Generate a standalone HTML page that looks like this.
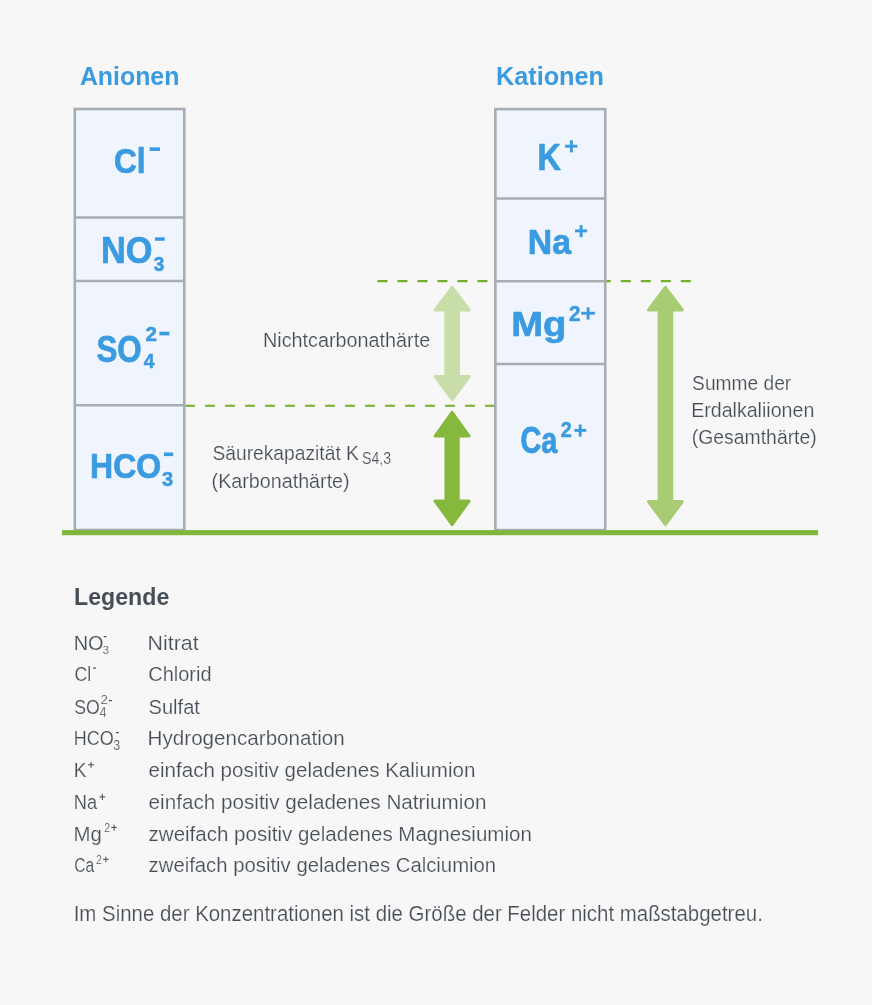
<!DOCTYPE html>
<html><head><meta charset="utf-8"><style>
html,body{margin:0;padding:0;background:#f7f7f7;}
svg{display:block;will-change:transform;font-family:"Liberation Sans",sans-serif;}
</style></head><body>
<svg width="872" height="1005" viewBox="0 0 872 1005">
<rect width="872" height="1005" fill="#f7f7f7"/>
<line x1="185.1" y1="405.8" x2="495" y2="405.8" stroke="#74b02a" stroke-width="2.1" stroke-dasharray="9.8 10.2"/>
<line x1="377.5" y1="281.2" x2="495" y2="281.2" stroke="#74b02a" stroke-width="2.2" stroke-dasharray="10 10"/>
<line x1="600.8" y1="281.2" x2="691.5" y2="281.2" stroke="#74b02a" stroke-width="2.2" stroke-dasharray="10 10"/>
<rect x="74.8" y="109" width="109.5" height="421" fill="#f0f4fc" stroke="#a7adb3" stroke-width="2.6"/>
<line x1="74.8" y1="217.5" x2="184.3" y2="217.5" stroke="#a7adb3" stroke-width="2.5"/>
<line x1="74.8" y1="281" x2="184.3" y2="281" stroke="#a7adb3" stroke-width="2.5"/>
<line x1="74.8" y1="405.3" x2="184.3" y2="405.3" stroke="#a7adb3" stroke-width="2.5"/>
<rect x="495.35" y="109.1" width="109.9" height="421" fill="#f0f4fc" stroke="#a7adb3" stroke-width="2.6"/>
<line x1="495.35" y1="198.6" x2="605.25" y2="198.6" stroke="#a7adb3" stroke-width="2.5"/>
<line x1="495.35" y1="281.3" x2="605.25" y2="281.3" stroke="#a7adb3" stroke-width="2.5"/>
<line x1="495.35" y1="364.05" x2="605.25" y2="364.05" stroke="#a7adb3" stroke-width="2.5"/>
<rect x="62" y="530.1" width="756.1" height="5.1" fill="#80b63b"/>
<polygon points="452.20,287.30 469.20,310.00 458.60,310.00 458.60,376.50 469.20,376.50 452.20,399.50 435.20,376.50 445.80,376.50 445.80,310.00 435.20,310.00" fill="#c9dda9" stroke="#c9dda9" stroke-width="3" stroke-linejoin="round"/>
<polygon points="452.10,412.30 469.10,436.00 458.20,436.00 458.20,501.00 469.10,501.00 452.10,524.60 435.10,501.00 446.00,501.00 446.00,436.00 435.10,436.00" fill="#86b83d" stroke="#86b83d" stroke-width="3" stroke-linejoin="round"/>
<polygon points="665.40,287.30 682.40,310.00 671.70,310.00 671.70,501.50 682.40,501.50 665.40,524.60 648.40,501.50 659.10,501.50 659.10,310.00 648.40,310.00" fill="#a8cc74" stroke="#a8cc74" stroke-width="3" stroke-linejoin="round"/>
<rect x="149.7" y="147.3" width="10.30" height="3.70" fill="#3b9be0"/>
<rect x="155" y="237.3" width="9.70" height="3.45" fill="#3b9be0"/>
<rect x="159.4" y="331.7" width="10.00" height="3.70" fill="#3b9be0"/>
<rect x="164" y="452.5" width="9.20" height="3.60" fill="#3b9be0"/>
<rect x="565.1" y="144.75" width="12.25" height="2.90" fill="#3b9be0"/>
<rect x="569.9499999999999" y="140.3" width="2.90" height="12.10" fill="#3b9be0"/>
<rect x="575" y="229.45000000000002" width="12.10" height="2.90" fill="#3b9be0"/>
<rect x="579.65" y="225.1" width="2.90" height="12.10" fill="#3b9be0"/>
<rect x="581.25" y="311.8" width="13.65" height="2.90" fill="#3b9be0"/>
<rect x="586.65" y="307.3" width="2.90" height="12.30" fill="#3b9be0"/>
<rect x="574.4" y="428.95" width="11.90" height="2.90" fill="#3b9be0"/>
<rect x="578.75" y="424.55" width="2.90" height="12.05" fill="#3b9be0"/>
<rect x="103.75" y="636" width="2.75" height="1.20" fill="#474e57"/>
<rect x="93.1" y="667.5" width="2.90" height="1.20" fill="#474e57"/>
<rect x="108.75" y="700" width="3.15" height="1.20" fill="#474e57"/>
<rect x="116" y="732" width="2.75" height="1.20" fill="#474e57"/>
<rect x="88.1" y="764.275" width="5.90" height="1.05" fill="#474e57"/>
<rect x="90.52499999999999" y="761.9" width="1.05" height="5.85" fill="#474e57"/>
<rect x="99.4" y="796.375" width="5.85" height="1.05" fill="#474e57"/>
<rect x="101.77499999999999" y="793.75" width="1.05" height="6.25" fill="#474e57"/>
<rect x="111.3" y="826.9250000000001" width="5.50" height="1.05" fill="#474e57"/>
<rect x="113.57499999999999" y="824.7" width="1.05" height="6.00" fill="#474e57"/>
<rect x="103" y="858.775" width="5.80" height="1.05" fill="#474e57"/>
<rect x="105.375" y="856.6" width="1.05" height="5.70" fill="#474e57"/>
<text transform="translate(79.91 84.50) scale(0.9717 1)" font-size="25.60" font-weight="bold" fill="#3b9be0">Anionen</text>
<text transform="translate(496.02 84.50) scale(0.9862 1)" font-size="25.60" font-weight="bold" fill="#3b9be0">Kationen</text>
<text transform="translate(114.06 173.20) scale(0.03155 0.03507)" font-size="1000" font-weight="bold" fill="#3b9be0" stroke="#3b9be0" stroke-width="0.7" vector-effect="non-scaling-stroke" stroke-linejoin="round">Cl</text>
<text transform="translate(100.90 263.38) scale(0.03433 0.03617)" font-size="1000" font-weight="bold" fill="#3b9be0" stroke="#3b9be0" stroke-width="0.7" vector-effect="non-scaling-stroke" stroke-linejoin="round">NO</text>
<text transform="translate(96.46 361.97) scale(0.03133 0.03701)" font-size="1000" font-weight="bold" fill="#3b9be0" stroke="#3b9be0" stroke-width="0.7" vector-effect="non-scaling-stroke" stroke-linejoin="round">SO</text>
<text transform="translate(90.10 478.39) scale(0.03201 0.03590)" font-size="1000" font-weight="bold" fill="#3b9be0" stroke="#3b9be0" stroke-width="0.7" vector-effect="non-scaling-stroke" stroke-linejoin="round">HCO</text>
<text transform="translate(537.62 169.55) scale(0.03246 0.03612)" font-size="1000" font-weight="bold" fill="#3b9be0" stroke="#3b9be0" stroke-width="0.7" vector-effect="non-scaling-stroke" stroke-linejoin="round">K</text>
<text transform="translate(527.84 254.29) scale(0.03379 0.03576)" font-size="1000" font-weight="bold" fill="#3b9be0" stroke="#3b9be0" stroke-width="0.7" vector-effect="non-scaling-stroke" stroke-linejoin="round">Na</text>
<text transform="translate(511.15 336.24) scale(0.03833 0.03525)" font-size="1000" font-weight="bold" fill="#3b9be0" stroke="#3b9be0" stroke-width="0.7" vector-effect="non-scaling-stroke" stroke-linejoin="round">Mg</text>
<text transform="translate(520.45 452.88) scale(0.02880 0.03673)" font-size="1000" font-weight="bold" fill="#3b9be0" stroke="#3b9be0" stroke-width="0.7" vector-effect="non-scaling-stroke" stroke-linejoin="round">Ca</text>
<text transform="translate(153.85 270.72) scale(0.01901 0.02087)" font-size="1000" font-weight="bold" fill="#3b9be0" stroke="#3b9be0" stroke-width="0.5" vector-effect="non-scaling-stroke" stroke-linejoin="round">3</text>
<text transform="translate(143.65 368.45) scale(0.01938 0.02005)" font-size="1000" font-weight="bold" fill="#3b9be0" stroke="#3b9be0" stroke-width="0.5" vector-effect="non-scaling-stroke" stroke-linejoin="round">4</text>
<text transform="translate(145.61 341.15) scale(0.02060 0.02034)" font-size="1000" font-weight="bold" fill="#3b9be0" stroke="#3b9be0" stroke-width="0.5" vector-effect="non-scaling-stroke" stroke-linejoin="round">2</text>
<text transform="translate(162.03 486.23) scale(0.02017 0.02045)" font-size="1000" font-weight="bold" fill="#3b9be0" stroke="#3b9be0" stroke-width="0.5" vector-effect="non-scaling-stroke" stroke-linejoin="round">3</text>
<text transform="translate(568.90 320.65) scale(0.02080 0.02261)" font-size="1000" font-weight="bold" fill="#3b9be0" stroke="#3b9be0" stroke-width="0.5" vector-effect="non-scaling-stroke" stroke-linejoin="round">2</text>
<text transform="translate(560.83 437.35) scale(0.01990 0.02247)" font-size="1000" font-weight="bold" fill="#3b9be0" stroke="#3b9be0" stroke-width="0.5" vector-effect="non-scaling-stroke" stroke-linejoin="round">2</text>
<text transform="translate(262.95 347.30) scale(0.9739 1)" font-size="20.34" font-weight="normal" fill="#474e57" stroke="#f7f7f7" stroke-width="0.200">Nichtcarbonathärte</text>
<text transform="translate(212.40 460.00) scale(0.9462 1)" font-size="20.34" font-weight="normal" fill="#474e57" stroke="#f7f7f7" stroke-width="0.200">Säurekapazität K</text>
<text transform="translate(362.06 463.75) scale(0.8815 1)" font-size="16.00" font-weight="normal" fill="#474e57" stroke="#f7f7f7" stroke-width="0.200">S4,3</text>
<text transform="translate(211.58 488.00) scale(0.9702 1)" font-size="20.34" font-weight="normal" fill="#474e57" stroke="#f7f7f7" stroke-width="0.200">(Karbonathärte)</text>
<text transform="translate(692.10 390.10) scale(0.9437 1)" font-size="20.34" font-weight="normal" fill="#474e57" stroke="#f7f7f7" stroke-width="0.200">Summe der</text>
<text transform="translate(691.17 416.80) scale(0.9638 1)" font-size="20.34" font-weight="normal" fill="#474e57" stroke="#f7f7f7" stroke-width="0.200">Erdalkaliionen</text>
<text transform="translate(691.79 443.50) scale(0.9535 1)" font-size="20.34" font-weight="normal" fill="#474e57" stroke="#f7f7f7" stroke-width="0.200">(Gesamthärte)</text>
<text transform="translate(74.05 605.00) scale(1.0026 1)" font-size="23.11" font-weight="bold" fill="#474e57">Legende</text>
<text transform="translate(73.69 649.50) scale(0.9478 1)" font-size="21.05" font-weight="normal" fill="#474e57" stroke="#f7f7f7" stroke-width="0.200">NO</text>
<text transform="translate(102.38 653.58) scale(0.01187 0.01078)" font-size="1000" font-weight="normal" fill="#474e57" stroke="#f7f7f7" stroke-width="18.548">3</text>
<text transform="translate(74.42 681.30) scale(0.8427 1)" font-size="21.05" font-weight="normal" fill="#474e57" stroke="#f7f7f7" stroke-width="0.200">Cl</text>
<text transform="translate(74.20 713.60) scale(0.8409 1)" font-size="21.05" font-weight="normal" fill="#474e57" stroke="#f7f7f7" stroke-width="0.200">SO</text>
<text transform="translate(99.55 717.25) scale(0.01261 0.01387)" font-size="1000" font-weight="normal" fill="#474e57" stroke="#f7f7f7" stroke-width="14.423">4</text>
<text transform="translate(100.62 704.40) scale(0.01333 0.01252)" font-size="1000" font-weight="normal" fill="#474e57" stroke="#f7f7f7" stroke-width="15.980">2</text>
<text transform="translate(73.84 745.40) scale(0.8560 1)" font-size="21.05" font-weight="normal" fill="#474e57" stroke="#f7f7f7" stroke-width="0.200">HCO</text>
<text transform="translate(113.36 749.52) scale(0.01239 0.01440)" font-size="1000" font-weight="normal" fill="#474e57" stroke="#f7f7f7" stroke-width="13.889">3</text>
<text transform="translate(73.76 777.10) scale(0.9039 1)" font-size="21.05" font-weight="normal" fill="#474e57" stroke="#f7f7f7" stroke-width="0.200">K</text>
<text transform="translate(73.83 809.10) scale(0.8663 1)" font-size="21.05" font-weight="normal" fill="#474e57" stroke="#f7f7f7" stroke-width="0.200">Na</text>
<text transform="translate(73.41 840.50) scale(0.9692 1)" font-size="21.05" font-weight="normal" fill="#474e57" stroke="#f7f7f7" stroke-width="0.200">Mg</text>
<text transform="translate(104.16 831.70) scale(0.01056 0.01308)" font-size="1000" font-weight="normal" fill="#474e57" stroke="#f7f7f7" stroke-width="15.285">2</text>
<text transform="translate(74.27 872.20) scale(0.7446 1)" font-size="21.05" font-weight="normal" fill="#474e57" stroke="#f7f7f7" stroke-width="0.200">Ca</text>
<text transform="translate(95.90 863.50) scale(0.01067 0.01308)" font-size="1000" font-weight="normal" fill="#474e57" stroke="#f7f7f7" stroke-width="15.285">2</text>
<text transform="translate(147.53 649.50) scale(1.0171 1)" font-size="21.05" font-weight="normal" fill="#474e57" stroke="#f7f7f7" stroke-width="0.200">Nitrat</text>
<text transform="translate(148.26 681.30) scale(0.9502 1)" font-size="21.05" font-weight="normal" fill="#474e57" stroke="#f7f7f7" stroke-width="0.200">Chlorid</text>
<text transform="translate(148.57 713.60) scale(0.9542 1)" font-size="21.05" font-weight="normal" fill="#474e57" stroke="#f7f7f7" stroke-width="0.200">Sulfat</text>
<text transform="translate(147.59 745.40) scale(0.9804 1)" font-size="21.05" font-weight="normal" fill="#474e57" stroke="#f7f7f7" stroke-width="0.200">Hydrogencarbonation</text>
<text transform="translate(148.56 777.10) scale(0.9774 1)" font-size="21.05" font-weight="normal" fill="#474e57" stroke="#f7f7f7" stroke-width="0.200">einfach positiv geladenes Kaliumion</text>
<text transform="translate(148.55 809.10) scale(0.9823 1)" font-size="21.05" font-weight="normal" fill="#474e57" stroke="#f7f7f7" stroke-width="0.200">einfach positiv geladenes Natriumion</text>
<text transform="translate(148.56 840.50) scale(0.9752 1)" font-size="21.05" font-weight="normal" fill="#474e57" stroke="#f7f7f7" stroke-width="0.200">zweifach positiv geladenes Magnesiumion</text>
<text transform="translate(148.57 872.20) scale(0.9651 1)" font-size="21.05" font-weight="normal" fill="#474e57" stroke="#f7f7f7" stroke-width="0.200">zweifach positiv geladenes Calciumion</text>
<text transform="translate(73.65 921.00) scale(0.9515 1)" font-size="21.48" font-weight="normal" fill="#474e57" stroke="#f7f7f7" stroke-width="0.200">Im Sinne der Konzentrationen ist die Größe der Felder nicht maßstabgetreu.</text>
</svg>
</body></html>
